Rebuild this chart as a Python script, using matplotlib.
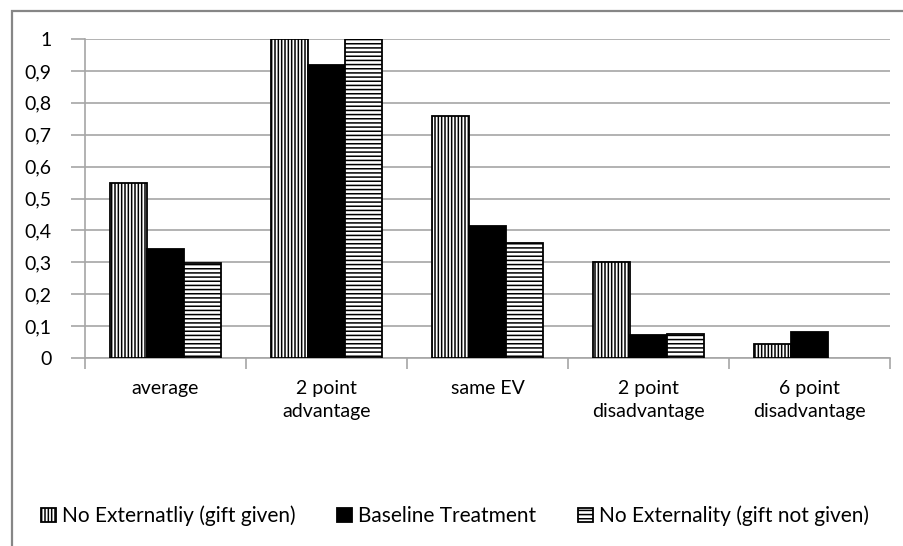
import matplotlib
matplotlib.use("Agg")
import matplotlib.pyplot as plt
import numpy as np
from matplotlib.patches import Rectangle

categories = ["average", "2 point\nadvantage", "same EV", "2 point\ndisadvantage", "6 point\ndisadvantage"]
series_names = ["No Externatliy (gift given)", "Baseline Treatment", "No Externality (gift not given)"]
gift_given = [0.55, 1.0, 0.76, 0.30, 0.044]
baseline = [0.343, 0.917, 0.415, 0.073, 0.082]
gift_not_given = [0.299, 1.0, 0.36, 0.076, 0.0]
y_ticks = [0, 0.1, 0.2, 0.3, 0.4, 0.5, 0.6, 0.7, 0.8, 0.9, 1.0]
y_tick_labels = ["0", "0,1", "0,2", "0,3", "0,4", "0,5", "0,6", "0,7", "0,8", "0,9", "1"]

plt.rcParams["font.family"] = ["Lato", "DejaVu Sans"]
plt.rcParams["hatch.linewidth"] = 1.1

W, H = 904, 546
fig = plt.figure(figsize=(W / 100, H / 100), dpi=100)
ax = fig.add_axes([85 / W, 1 - 358 / H, 805 / W, 319 / H])

x = np.arange(len(categories))
bw = 0.23
styles = [
    dict(facecolor="white", hatch="|||||"),
    dict(facecolor="black", hatch=None),
    dict(facecolor="white", hatch="----"),
]
handles = []
for i, (vals, st) in enumerate(zip([gift_given, baseline, gift_not_given], styles)):
    bars = ax.bar(x + (i - 1) * bw, vals, bw, edgecolor="black", linewidth=1.3,
                  zorder=3, label=series_names[i], **st)
    # empty bars leave no outline
    for b in bars:
        if b.get_height() == 0:
            b.set_visible(False)
    handles.append(bars)

ax.set_xlim(-0.5, len(categories) - 0.5)
ax.set_ylim(0, 1)
ax.set_yticks(y_ticks)
ax.set_yticklabels(y_tick_labels, fontsize=14)
ax.yaxis.grid(True, color="#a6a6a6", linewidth=1.2, zorder=0)
ax.set_axisbelow(True)

# category labels without ticks, boundary ticks below
ax.set_xticks(x)
ax.set_xticklabels(categories, fontsize=14, linespacing=1.4)
ax.tick_params(axis="x", length=0, pad=16)
ax.set_xticks(np.arange(len(categories) + 1) - 0.5, minor=True)
ax.tick_params(axis="x", which="minor", length=8, color="#a6a6a6", width=1.2)
ax.tick_params(axis="y", length=10, color="#a6a6a6", width=1.2, pad=14)

for side in ["top", "right"]:
    ax.spines[side].set_visible(False)
ax.spines["left"].set_color("#a6a6a6")
ax.spines["bottom"].set_color("#a6a6a6")
ax.spines["left"].set_linewidth(1.2)
ax.spines["bottom"].set_linewidth(1.2)

fig.legend(handles=handles, loc="center", bbox_to_anchor=(455 / W, 1 - 516 / H),
           ncol=3, frameon=False, fontsize=15, handlelength=0.7, handleheight=0.7,
           handletextpad=0.3, columnspacing=2.0)

# outer chart border (only left and top visible)
fig.patches.append(Rectangle((12 / W, -0.5), 2, 1.5 - 11 / H, transform=fig.transFigure,
                             fill=False, edgecolor="#868686", linewidth=1.6))

fig.savefig("out.png", dpi=100)
